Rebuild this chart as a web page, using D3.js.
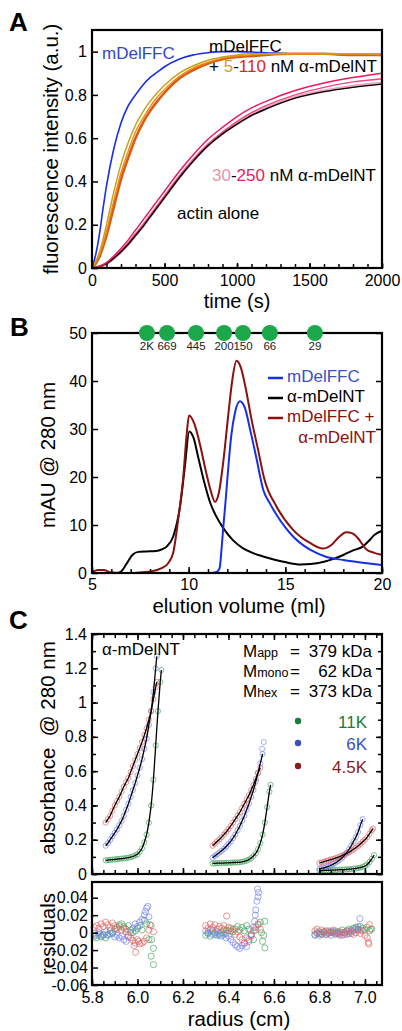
<!DOCTYPE html>
<html><head><meta charset="utf-8">
<script src="https://cdn.jsdelivr.net/npm/d3@7"></script>
<style>
body{margin:0;background:#fff}
svg{display:block;font-family:"Liberation Sans",Arial,Helvetica,sans-serif}
</style></head><body>
<svg id="c" width="402" height="1031"></svg>
<script>
// ---------------- Panel A data ----------------
const timeA = [0,25,50,75,100,150,200,250,300,350,400,450,500,600,700,800,900,1000,1100,1200,1400,1600,1800,2000];
const aBlue = [0,.06,.15,.27,.38,.55,.67,.75,.80,.845,.88,.905,.93,.965,.985,.995,1.0,1.0,.998,.995,.99,.99,.985,.985];
const aGold = [0,.03,.07,.13,.20,.35,.48,.58,.66,.72,.77,.81,.845,.90,.935,.96,.975,.985,.99,.99,.99,.99,.99,.99];
const aOrange = [0,.025,.06,.11,.17,.31,.44,.54,.63,.69,.745,.79,.825,.885,.925,.95,.97,.98,.985,.99,.99,.99,.99,.985];
const aRedOrange = [0,.02,.05,.095,.15,.28,.41,.51,.60,.67,.725,.77,.81,.875,.915,.945,.965,.975,.98,.985,.99,.99,.985,.985];
const aBlack = [0,.002,.006,.012,.02,.045,.075,.11,.15,.19,.235,.28,.325,.415,.495,.565,.62,.665,.705,.735,.785,.815,.835,.85];
const aPinkHot = [0,.003,.008,.015,.025,.055,.09,.13,.175,.22,.265,.31,.355,.445,.525,.595,.65,.70,.74,.77,.82,.855,.88,.90];
const aPinkMid = [0,.002,.007,.013,.022,.05,.08,.117,.157,.198,.243,.288,.333,.423,.503,.573,.628,.678,.718,.75,.80,.835,.86,.875];
const aPinkLight = [0,.002,.006,.012,.02,.045,.075,.11,.152,.193,.238,.283,.328,.418,.498,.568,.622,.667,.707,.738,.788,.818,.84,.855];
const ticksA_x = [0,500,1000,1500,2000];
const ticksA_y = [0,0.2,0.4,0.6,0.8,1];

// ---------------- Panel B data ----------------
const bBlack = [[5,0],[6.3,0],[6.5,0.3],[6.8,2.0],[7.1,3.8],[7.4,4.4],[7.8,4.5],[8.3,4.6],[8.6,4.9],[8.86,5.5],[9.2,7.6],[9.55,13.8],[9.8,22],[10.03,29.5],[10.25,28.2],[10.5,24],[10.8,19],[11.1,14.8],[11.4,12.0],[11.8,9.3],[12.3,6.8],[12.8,5.2],[13.3,4.2],[13.9,3.4],[14.9,2.35],[15.8,1.75],[16.3,1.85],[17,2.35],[17.5,2.95],[18,3.75],[18.5,4.7],[19,5.5],[19.3,6.6],[19.6,7.9],[20,8.8]];
const bBlue = [[11.2,0],[11.45,0.2],[11.6,1.0],[11.7,5],[11.8,10],[11.9,14.5],[12.05,22],[12.2,28.5],[12.4,33.5],[12.65,35.8],[12.9,34.5],[13.2,29.5],[13.5,24],[13.86,17.3],[14.2,14.5],[14.55,12.1],[15,9.5],[15.4,7.6],[16.3,4.8],[17.1,3.4],[18,2.7],[19,2.15],[20,1.67]];
const bDarkRed = [[5,0.1],[5.3,0.6],[5.6,0.6],[6,0.1],[6.5,0],[7.2,0],[7.6,0.15],[8.1,0.35],[8.6,1.0],[8.95,2.1],[9.2,4.2],[9.46,11.2],[9.72,20],[9.9,29],[10.02,32.8],[10.3,31],[10.6,26.5],[10.9,21],[11.15,17],[11.36,14.8],[11.55,16.5],[11.8,23.5],[12.05,33],[12.25,40],[12.47,44.2],[12.7,42.8],[12.95,38.5],[13.25,32],[13.6,25.5],[13.9,19.8],[14.55,13.8],[15.4,9.0],[16.3,6.2],[16.95,5.1],[17.4,5.9],[17.8,7.6],[18.15,8.5],[18.45,8.3],[18.7,7.5],[19.2,4.9],[19.6,4.2],[20,3.8]];
const markerVol = [7.84,8.88,10.38,11.83,12.81,14.2,16.53];
const markerLab = ["2K","669","445","200","150","66","29"];
const ticksB_x = [5,10,15,20];
const ticksB_y = [0,10,20,30,40,50];

// ---------------- Panel C data (absorbance, [radius, A280]) ----------------
const abs45K = [
 [[5.86,.30],[5.87,.32],[5.88,.34],[5.89,.37],[5.90,.40],[5.91,.425],[5.92,.45],[5.93,.48],[5.94,.51],[5.95,.535],[5.96,.56],[5.97,.595],[5.98,.63],[5.99,.665],[6.00,.70],[6.01,.735],[6.02,.77],[6.03,.81],[6.04,.85],[6.05,.90],[6.06,.95],[6.07,1.02],[6.08,1.09],[6.085,1.12]],
 [[6.33,.165],[6.34,.177],[6.35,.19],[6.36,.202],[6.37,.215],[6.38,.23],[6.39,.245],[6.40,.262],[6.41,.28],[6.42,.30],[6.43,.32],[6.44,.34],[6.45,.36],[6.46,.385],[6.47,.41],[6.48,.435],[6.49,.46],[6.50,.49],[6.51,.52],[6.52,.555],[6.53,.59],[6.54,.62]],
 [[6.80,.065],[6.81,.068],[6.82,.072],[6.83,.076],[6.84,.080],[6.85,.084],[6.86,.088],[6.87,.092],[6.88,.097],[6.89,.102],[6.90,.108],[6.91,.114],[6.92,.12],[6.93,.127],[6.94,.135],[6.95,.144],[6.96,.153],[6.97,.164],[6.98,.175],[6.99,.188],[7.00,.20],[7.01,.215],[7.02,.235],[7.03,.255],[7.035,.265]]
];
const abs6K = [
 [[5.86,.165],[5.87,.18],[5.88,.20],[5.89,.22],[5.90,.24],[5.91,.26],[5.92,.285],[5.93,.31],[5.94,.34],[5.95,.375],[5.96,.41],[5.97,.45],[5.98,.49],[5.99,.53],[6.00,.575],[6.01,.62],[6.02,.67],[6.03,.73],[6.04,.79],[6.05,.87],[6.06,.95],[6.07,1.06],[6.08,1.20],[6.085,1.27]],
 [[6.33,.095],[6.34,.105],[6.35,.115],[6.36,.125],[6.37,.135],[6.38,.147],[6.39,.16],[6.40,.175],[6.41,.19],[6.42,.21],[6.43,.23],[6.44,.255],[6.45,.28],[6.46,.31],[6.47,.34],[6.48,.375],[6.49,.41],[6.50,.45],[6.51,.49],[6.52,.54],[6.53,.59],[6.54,.645],[6.55,.70]],
 [[6.80,.030],[6.81,.033],[6.82,.036],[6.83,.040],[6.84,.045],[6.85,.050],[6.86,.057],[6.87,.064],[6.88,.073],[6.89,.083],[6.90,.095],[6.91,.109],[6.92,.125],[6.93,.144],[6.94,.165],[6.95,.19],[6.96,.215],[6.97,.245],[6.98,.285],[6.99,.32]]
];
const abs6K_extra = [[6.555,.77],[6.548,.73]];
const abs11K = [
 [[5.86,.080],[5.87,.081],[5.88,.083],[5.89,.084],[5.90,.085],[5.91,.087],[5.92,.088],[5.93,.090],[5.94,.091],[5.95,.093],[5.96,.095],[5.97,.098],[5.98,.102],[5.99,.108],[6.00,.115],[6.01,.13],[6.02,.15],[6.03,.185],[6.04,.23],[6.05,.30],[6.06,.40],[6.07,.55],[6.08,.75],[6.09,.95],[6.10,1.12],[6.105,1.19]],
 [[6.33,.062],[6.34,.062],[6.35,.063],[6.36,.063],[6.37,.064],[6.38,.064],[6.39,.065],[6.40,.065],[6.41,.066],[6.42,.067],[6.43,.067],[6.44,.068],[6.45,.069],[6.46,.071],[6.47,.074],[6.48,.078],[6.49,.084],[6.50,.093],[6.51,.105],[6.52,.12],[6.53,.145],[6.54,.18],[6.55,.23],[6.56,.30],[6.57,.39],[6.58,.48],[6.585,.52]],
 [[6.80,.020],[6.81,.020],[6.82,.021],[6.83,.021],[6.84,.022],[6.85,.022],[6.86,.023],[6.87,.023],[6.88,.024],[6.89,.025],[6.90,.025],[6.91,.026],[6.92,.027],[6.93,.028],[6.94,.029],[6.95,.031],[6.96,.032],[6.97,.035],[6.98,.037],[6.99,.041],[7.00,.047],[7.01,.056],[7.02,.07],[7.03,.088],[7.04,.11]]
];
// residuals
const res45K = [
 [5.81,.006],[5.82,.008],[5.83,.005],[5.84,.010],[5.85,.007],[5.86,.012],[5.87,.009],[5.88,.006],[5.89,.011],[5.90,.008],[5.91,.004],[5.92,.007],[5.93,.003],[5.94,.005],[5.95,.001],[5.96,-.003],[5.97,-.006],[5.98,-.009],[5.985,-.015],[5.99,-.012],[5.992,-.0225],[6.00,-.008],[6.005,-.010],[6.01,-.013],[6.02,-.012],[6.03,-.010],[6.04,-.006],[6.05,.003],[6.06,.008],[6.07,.001],
 [6.30,.008],[6.31,.005],[6.32,.010],[6.33,.006],[6.34,.009],[6.35,.004],[6.36,.007],[6.37,.005],[6.38,.008],[6.39,.003],[6.392,.019],[6.40,.006],[6.41,.002],[6.42,.004],[6.43,-.002],[6.44,.001],[6.45,-.005],[6.46,-.008],[6.47,-.012],[6.48,-.006],[6.49,-.010],[6.50,-.004],[6.51,.002],[6.52,.006],[6.53,.010],[6.54,.004],
 [6.78,.002],[6.79,.004],[6.80,-.001],[6.81,.003],[6.82,.001],[6.83,-.002],[6.84,.002],[6.85,.000],[6.86,.003],[6.87,-.001],[6.88,.001],[6.89,-.003],[6.90,.000],[6.91,-.002],[6.92,.002],[6.93,-.001],[6.94,.001],[6.95,-.002],[6.96,.000],[6.97,.003],[6.98,-.001],[6.99,.002],[7.00,-.003],[7.01,-.006],[7.015,-.011],[7.017,-.013],[7.02,.009],[7.025,.004]
];
const res6K = [
 [5.81,-.001],[5.82,-.003],[5.83,.000],[5.84,-.004],[5.85,-.002],[5.86,.001],[5.87,-.003],[5.88,-.001],[5.89,.000],[5.90,-.005],[5.91,-.003],[5.92,-.006],[5.93,-.004],[5.94,-.008],[5.95,-.010],[5.96,-.005],[5.97,.000],[5.98,.005],[5.99,.010],[6.00,.007],[6.01,.012],[6.02,.015],[6.03,.020],[6.035,.024],[6.04,.028],[6.045,.030],[6.05,.018],
 [6.30,.002],[6.31,-.001],[6.32,.003],[6.33,-.002],[6.34,.000],[6.35,-.003],[6.36,-.001],[6.37,-.004],[6.38,-.002],[6.39,-.006],[6.40,-.004],[6.41,-.008],[6.42,-.011],[6.43,-.014],[6.44,-.016],[6.45,-.018],[6.46,-.015],[6.47,-.012],[6.48,-.016],[6.49,-.008],[6.50,-.003],[6.51,.006],[6.515,.013],[6.518,.020],[6.52,.026],[6.525,.036],[6.53,.041],[6.532,.046],[6.528,.050],
 [6.78,-.002],[6.79,.000],[6.80,-.003],[6.81,-.001],[6.82,.001],[6.83,-.002],[6.84,.000],[6.85,-.003],[6.86,.001],[6.87,-.002],[6.88,.000],[6.89,-.001],[6.90,-.003],[6.91,.000],[6.92,-.002],[6.93,.001],[6.94,-.001],[6.95,.002],[6.96,.004],[6.97,.007],[6.978,.016],[6.98,.003]
];
const res11K = [
 [5.81,-.004],[5.82,-.006],[5.83,-.002],[5.84,-.005],[5.85,-.003],[5.86,-.006],[5.87,-.002],[5.88,.002],[5.89,-.001],[5.90,.004],[5.91,.006],[5.92,.009],[5.93,.010],[5.94,.007],[5.95,.004],[5.96,.008],[5.97,.003],[5.98,.000],[5.99,.002],[6.00,.005],[6.01,.008],[6.02,.003],[6.03,.014],[6.04,.010],[6.055,.009],[6.05,-.008],[6.062,-.008],[6.06,-.027],[6.07,-.018],[6.07,-.0366],
 [6.30,-.003],[6.31,.000],[6.32,-.004],[6.33,.002],[6.34,-.002],[6.35,.001],[6.36,-.003],[6.37,.000],[6.38,.003],[6.39,-.001],[6.40,.002],[6.41,.005],[6.42,.001],[6.43,.004],[6.44,.007],[6.45,.003],[6.46,.006],[6.47,.002],[6.48,.008],[6.49,.004],[6.50,-.002],[6.51,-.008],[6.52,.003],[6.53,.009],[6.54,.012],[6.545,.000],[6.55,-.010],[6.56,-.0175],[6.555,-.003],[6.56,.013],
 [6.78,-.003],[6.79,-.001],[6.80,.001],[6.81,-.002],[6.82,.000],[6.83,.002],[6.84,-.001],[6.85,.001],[6.86,.000],[6.87,.002],[6.88,-.001],[6.89,.001],[6.90,.003],[6.91,.000],[6.92,.002],[6.93,.004],[6.94,.003],[6.95,.005],[6.96,.006],[6.97,.004],[6.98,.007],[6.99,.005],[7.00,.003],[7.01,.006],[7.02,.002],[7.03,.004]
];
const ticksC_x = [5.8,6.0,6.2,6.4,6.6,6.8,7.0];
const ticksC_y = [0,0.2,0.4,0.6,0.8,1,1.2,1.4];
const ticksR_y = [-0.06,-0.04,-0.02,0,0.02,0.04];

// ---------------- drawing ----------------
const svg = d3.select("#c");
const FF = '"Liberation Sans",Arial,Helvetica,sans-serif';
const TF = 16;
const TT = 20;
const L = 92, R = 382;

function axis(gen, tx, ty) {
  const g = svg.append("g").attr("transform", `translate(${tx},${ty})`).call(gen);
  g.attr("font-size", null).attr("font-family", null);
  g.select(".domain").remove();
  g.selectAll(".tick line").attr("stroke", "#000").attr("stroke-width", 1.5);
  g.selectAll(".tick text").attr("font-size", TF).attr("fill", "#000").attr("font-family", FF);
  return g;
}
function box(x0, y0, x1, y1) {
  svg.append("rect").attr("x", x0).attr("y", y0).attr("width", x1 - x0).attr("height", y1 - y0)
    .attr("fill", "none").attr("stroke", "#000").attr("stroke-width", 2.2);
}
function text(x, y, s, o = {}) {
  const t = svg.append("text").attr("x", x).attr("y", y).text(s)
    .attr("font-size", o.size || 17).attr("fill", o.fill || "#000")
    .attr("text-anchor", o.anchor || "start");
  if (o.weight) t.attr("font-weight", o.weight);
  if (o.rot) t.attr("transform", `rotate(-90,${x},${y})`);
  t.style("white-space", "pre");
  return t;
}
function multi(x, y, parts, anchor) {
  const t = svg.append("text").attr("x", x).attr("y", y).attr("font-size", 17)
    .attr("text-anchor", anchor || "start").style("white-space", "pre");
  parts.forEach(p => t.append("tspan").text(p[0]).attr("fill", p[1] || "#000").attr("font-size", p[2] || null));
  return t;
}
const fmtG = d3.format("~g");

// ===== Panel A =====
const xA = d3.scaleLinear().domain([0, 2000]).range([L, R]);
const yA = d3.scaleLinear().domain([0, 1.1]).range([268, 30]);
const lineA = vals => d3.line().x((d, i) => xA(timeA[i])).y(d => yA(d)).curve(d3.curveMonotoneX)(vals);
const seriesA = [
  [aPinkLight, "#eca6bc", 3.2],
  [aPinkMid, "#f0468a", 1.4],
  [aBlack, "#000", 1.4],
  [aPinkHot, "#ea1a5c", 1.5],
  [aBlue, "#1a2ee6", 1.6],
  [aRedOrange, "#dc5a12", 2.6],
  [aOrange, "#ec8a14", 1.4],
  [aGold, "#c9a21a", 1.5]
];
seriesA.forEach(s => svg.append("path").attr("d", lineA(s[0])).attr("fill", "none")
  .attr("stroke", s[1]).attr("stroke-width", s[2]));
axis(d3.axisBottom(xA).tickValues(d3.range(0, 2001, 100)).tickFormat("").tickSize(-4), 0, 268);
axis(d3.axisBottom(xA).tickValues(ticksA_x).tickFormat(d3.format("d")).tickSize(-5).tickPadding(7), 0, 268);
axis(d3.axisLeft(yA).tickValues(ticksA_y).tickFormat(fmtG).tickSize(-6).tickPadding(5), L, 0);
box(L, 30, R, 268);
text(102, 59, "mDelFFC", { fill: "#3347c8" });
text(209, 52, "mDelFFC");
multi(209, 72, [["+ "], ["5", "#c9a030"], ["-"], ["110", "#e2231a"], [" nM α-mDelNT"]]);
multi(212, 181, [["30", "#eb93ad"], ["-"], ["250", "#ea1a5c"], [" nM α-mDelNT"]]);
text(177, 219, "actin alone");
text(237, 308, "time (s)", { size: TT, anchor: "middle" });
text(58, 149, "fluorescence intensity (a.u.)", { size: TT + 0.5, anchor: "middle", rot: true });
text(9, 31, "A", { size: 26, weight: "bold" });

// ===== Panel B =====
const xB = d3.scaleLinear().domain([5, 20]).range([L, R]);
const yB = d3.scaleLinear().domain([0, 50]).range([573, 333]);
const lineB = d3.line().x(d => xB(d[0])).y(d => yB(d[1])).curve(d3.curveMonotoneX);
[[bBlack, "#000"], [bBlue, "#1530e6"], [bDarkRed, "#8b1010"]].forEach(s =>
  svg.append("path").attr("d", lineB(s[0])).attr("fill", "none").attr("stroke", s[1]).attr("stroke-width", 2));
axis(d3.axisBottom(xB).tickValues(d3.range(5, 20.01, 1)).tickFormat("").tickSize(-4), 0, 573);
axis(d3.axisBottom(xB).tickValues(ticksB_x).tickFormat(d3.format("d")).tickSize(-6).tickPadding(6), 0, 573);
axis(d3.axisLeft(yB).tickValues(ticksB_y).tickFormat(d3.format("d")).tickSize(-6).tickPadding(5), L, 0);
axis(d3.axisRight(yB).tickValues(ticksB_y).tickFormat("").tickSize(-6), R, 0);
box(L, 333, R, 573);
svg.append("g").selectAll("circle").data(markerVol).join("circle")
  .attr("cx", d => xB(d)).attr("cy", 333).attr("r", 8).attr("fill", "#1aa84a");
svg.append("g").selectAll("text").data(markerLab).join("text")
  .attr("x", (d, i) => xB(markerVol[i])).attr("y", 350).attr("text-anchor", "middle")
  .attr("font-size", 11.5).attr("fill", "#222").text(d => d);
const legB = [["mDelFFC", "#1530e6", "#3a50c8", 378, 382], ["α-mDelNT", "#000", "#000", 398, 402], ["mDelFFC +", "#8b1010", "#8b1010", 418, 422]];
legB.forEach(l => {
  svg.append("line").attr("x1", 268).attr("x2", 283).attr("y1", l[3]).attr("y2", l[3]).attr("stroke", l[1]).attr("stroke-width", 2.5);
  text(287, l[4], l[0], { fill: l[2] });
});
text(376, 443, "α-mDelNT", { fill: "#8b1010", anchor: "end" });
text(239, 613, "elution volume (ml)", { size: TT + 0.5, anchor: "middle" });
text(55, 455, "mAU @ 280 nm", { size: TT + 0.5, anchor: "middle", rot: true });
text(10, 336, "B", { size: 26, weight: "bold" });

// ===== Panel C =====
const xC = d3.scaleLinear().domain([5.8, 7.075]).range([L, R]);
const yC = d3.scaleLinear().domain([0, 1.4]).range([874, 634]);
const yR = d3.scaleLinear().domain([-0.06, 0.058]).range([985, 882]);
const lineC = d3.line().x(d => xC(d[0])).y(d => yC(d[1])).curve(d3.curveMonotoneX);
const colC = { g: "#3fa35a", b: "#6f7ff0", r: "#e06262" };
const setsC = [[abs11K, colC.g], [abs6K, colC.b], [abs45K, colC.r]];
setsC.forEach(s => s[0].forEach(seg =>
  svg.append("g").selectAll("circle").data(seg).join("circle")
    .attr("cx", d => xC(d[0])).attr("cy", d => yC(d[1])).attr("r", 2.6)
    .attr("fill", "none").attr("stroke", s[1]).attr("stroke-width", 0.9).attr("opacity", 0.75)));
svg.append("g").selectAll("circle").data(abs6K_extra).join("circle")
  .attr("cx", d => xC(d[0])).attr("cy", d => yC(d[1])).attr("r", 2.6)
  .attr("fill", "none").attr("stroke", colC.b).attr("stroke-width", 0.9).attr("opacity", 0.7);
setsC.forEach(s => s[0].forEach(seg =>
  svg.append("path").attr("d", lineC(seg)).attr("fill", "none").attr("stroke", "#000").attr("stroke-width", 1.3)));
axis(d3.axisBottom(xC).tickValues(d3.range(5.8, 7.07, 0.05)).tickFormat("").tickSize(-4), 0, 874);
axis(d3.axisBottom(xC).tickValues(ticksC_x).tickFormat("").tickSize(-6), 0, 874);
axis(d3.axisTop(xC).tickValues(d3.range(5.8, 7.07, 0.05)).tickFormat("").tickSize(-4), 0, 634);
axis(d3.axisTop(xC).tickValues(ticksC_x).tickFormat("").tickSize(-6), 0, 634);
axis(d3.axisLeft(yC).tickValues(d3.range(0, 1.41, 0.1)).tickFormat("").tickSize(-4), L, 0);
axis(d3.axisLeft(yC).tickValues(ticksC_y).tickFormat(fmtG).tickSize(-6).tickPadding(5), L, 0);
axis(d3.axisRight(yC).tickValues(d3.range(0, 1.41, 0.1)).tickFormat("").tickSize(-4), R, 0);
axis(d3.axisRight(yC).tickValues(ticksC_y).tickFormat("").tickSize(-6), R, 0);
box(L, 634, R, 874);

// residuals
[[res11K, colC.g], [res6K, colC.b], [res45K, colC.r]].forEach(s =>
  svg.append("g").selectAll("circle").data(s[0]).join("circle")
    .attr("cx", d => xC(d[0])).attr("cy", d => yR(d[1])).attr("r", 3.1)
    .attr("fill", "none").attr("stroke", s[1]).attr("stroke-width", 0.9).attr("opacity", 0.75));
axis(d3.axisBottom(xC).tickValues(d3.range(5.8, 7.07, 0.05)).tickFormat("").tickSize(-4), 0, 985);
axis(d3.axisBottom(xC).tickValues(ticksC_x).tickFormat(d3.format(".1f")).tickSize(-6).tickPadding(7), 0, 985);
axis(d3.axisLeft(yR).tickValues(ticksR_y).tickFormat(v => Math.abs(v) < 1e-9 ? "0" : v.toFixed(2)).tickSize(-6).tickPadding(4), L, 0);
box(L, 882, R, 985);

text(102, 655, "α-mDelNT");
const mRows = [["M", "app", "379 kDa", 657], ["M", "mono", "62 kDa", 677], ["M", "hex", "373 kDa", 697]];
mRows.forEach(m => {
  multi(243, m[3], [[m[0]], [m[1], "#000", 12.5]]);
  text(290, m[3], "=");
  text(372, m[3], m[2], { anchor: "end" });
});
const legC = [["11K", "#1d7a3a", "#1d7a3a", 721, 728], ["6K", "#3b4fc4", "#3b4fc4", 743, 750], ["4.5K", "#8b1c1c", "#8b1c1c", 766, 773]];
legC.forEach(l => {
  svg.append("circle").attr("cx", 298).attr("cy", l[3]).attr("r", 3.2).attr("fill", l[1]);
  text(367, l[4], l[0], { fill: l[2], anchor: "end" });
});
text(239, 1026, "radius (cm)", { size: TT + 0.5, anchor: "middle" });
text(55, 748, "absorbance  @ 280 nm", { size: TT + 0.5, anchor: "middle", rot: true });
text(55, 934, "residuals", { size: TT + 0.5, anchor: "middle", rot: true });
text(9, 629, "C", { size: 26, weight: "bold" });
</script>
</body></html>
